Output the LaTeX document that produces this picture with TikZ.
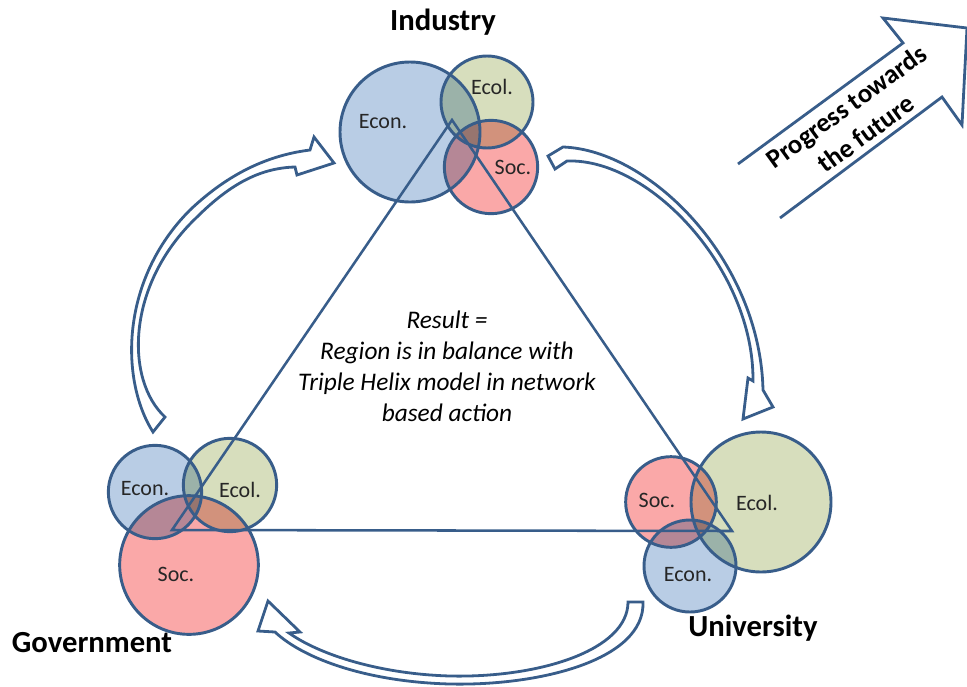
\documentclass[tikz,border=0pt]{standalone}
\usepackage{fontspec}
\setmainfont{Carlito}
\definecolor{ln}{RGB}{56,93,138}
\definecolor{econ}{RGB}{185,205,229}
\definecolor{ecol}{RGB}{215,222,189}
\definecolor{soc}{RGB}{250,168,168}
\tikzset{
  ring/.style={circle, draw=ln, line width=2.2pt, minimum size=#1, inner sep=0pt},
  lbl/.style={font=\fontsize{16.5}{19}\selectfont, text=black!85, inner sep=0pt},
  title/.style={font=\fontsize{23}{27}\selectfont\bfseries, inner sep=0pt},
  tri/.style={draw=ln, line width=1.9pt, line join=miter},
  harrow/.style={draw=ln, line width=2.1pt, line join=miter},
}
\begin{document}
\begin{tikzpicture}[x=0.75pt,y=-0.75pt]
\useasboundingbox (0,0) rectangle (967,686);
% circle centres
\coordinate (ciEcon) at (410,132);
\coordinate (ciEcol) at (487,102);
\coordinate (ciSoc)  at (491,167);
\coordinate (cgEcon) at (155,492);
\coordinate (cgEcol) at (230,485);
\coordinate (cgSoc)  at (189,565);
\coordinate (cuSoc)  at (671,502);
\coordinate (cuEcol) at (761,502);
\coordinate (cuEcon) at (690,566);
% fills
\begin{scope}[blend group=multiply]
\fill[econ] (ciEcon) circle[radius=52.5pt];
\fill[ecol] (ciEcol) circle[radius=34.5pt];
\fill[soc]  (ciSoc)  circle[radius=35pt];
\fill[econ] (cgEcon) circle[radius=35pt];
\fill[ecol] (cgEcol) circle[radius=35pt];
\fill[soc]  (cgSoc)  circle[radius=52pt];
\fill[soc]  (cuSoc)  circle[radius=34pt];
\fill[ecol] (cuEcol) circle[radius=52.5pt];
\fill[econ] (cuEcon) circle[radius=34.5pt];
\end{scope}
% outlines
\node[ring=105pt] (iEcon) at (ciEcon) {};
\node[ring=69pt]  (iEcol) at (ciEcol) {};
\node[ring=70pt]  (iSoc)  at (ciSoc) {};
\node[ring=70pt]  (gEcon) at (cgEcon) {};
\node[ring=70pt]  (gEcol) at (cgEcol) {};
\node[ring=104pt] (gSoc)  at (cgSoc) {};
\node[ring=68pt]  (uSoc)  at (cuSoc) {};
\node[ring=105pt] (uEcol) at (cuEcol) {};
\node[ring=69pt]  (uEcon) at (cuEcon) {};
% triangle
\coordinate (tA) at (452,120);
\coordinate (tB) at (172,530);
\coordinate (tC) at (732,531);
\draw[tri] (tA) -- (tB) -- (tC) -- cycle;
% circle labels
\node[lbl] (liEcon) at (383,122) {Econ.};
\node[lbl] (liEcol) at (492,87) {Ecol.};
\node[lbl] (liSoc)  at (513,167) {Soc.};
\node[lbl] (lgEcon) at (145,489) {Econ.};
\node[lbl] (lgEcol) at (240,490) {Ecol.};
\node[lbl] (lgSoc)  at (176,574) {Soc.};
\node[lbl] (luSoc)  at (657,500) {Soc.};
\node[lbl] (luEcol) at (757,503) {Ecol.};
\node[lbl] (luEcon) at (688,575) {Econ.};
% titles
\node[title] (tInd) at (443,22) {Industry};
\node[title] (tGov) at (92,643) {Government};
\node[title] (tUni) at (753,628) {University};
% centre text
\node[align=center, inner sep=0pt, font=\fontsize{19}{23.25}\selectfont\itshape] (res) at (447,366)
  {Result =\\Region is in balance with\\Triple Helix model in network\\based action};
% curved hollow arrows
% left: Government -> Industry
\draw[harrow] (153,432) .. controls (120,380) and (120,280) .. (190,210)
  .. controls (230,172) and (270,155) .. (310,150)
  -- (314,137) -- (334,163) -- (297,175) -- (295,167)
  .. controls (262,168) and (232,182) .. (196,218)
  .. controls (126,285) and (125,380) .. (165,417) -- cycle;
% right: Industry -> University
\draw[harrow] (548,156) -- (563,147) .. controls (650,150) and (760,260) .. (763,390)
  -- (773,407) -- (743,419) -- (748,378) -- (753,381)
  .. controls (754,270) and (650,158) .. (567,161) -- (555,169) -- cycle;
% bottom: University -> Government
\draw[harrow] (643,602) .. controls (645,660) and (540,686) .. (450,684)
  .. controls (370,682) and (305,660) .. (275,632)
  -- (258,631) -- (268,601) -- (300,632) -- (289,633)
  .. controls (320,655) and (380,674) .. (450,676)
  .. controls (540,678) and (628,650) .. (628,602) -- cycle;
% progress arrow
\draw[harrow] (738,164) -- (903,43) -- (883,18) -- (967,28) -- (962,125) -- (942,97) -- (780,218);
\node[rotate=36, align=center, inner sep=0pt, font=\fontsize{20}{25}\selectfont\bfseries] (prog) at (856,120)
  {Progress towards\\the future};
\end{tikzpicture}
\end{document}
